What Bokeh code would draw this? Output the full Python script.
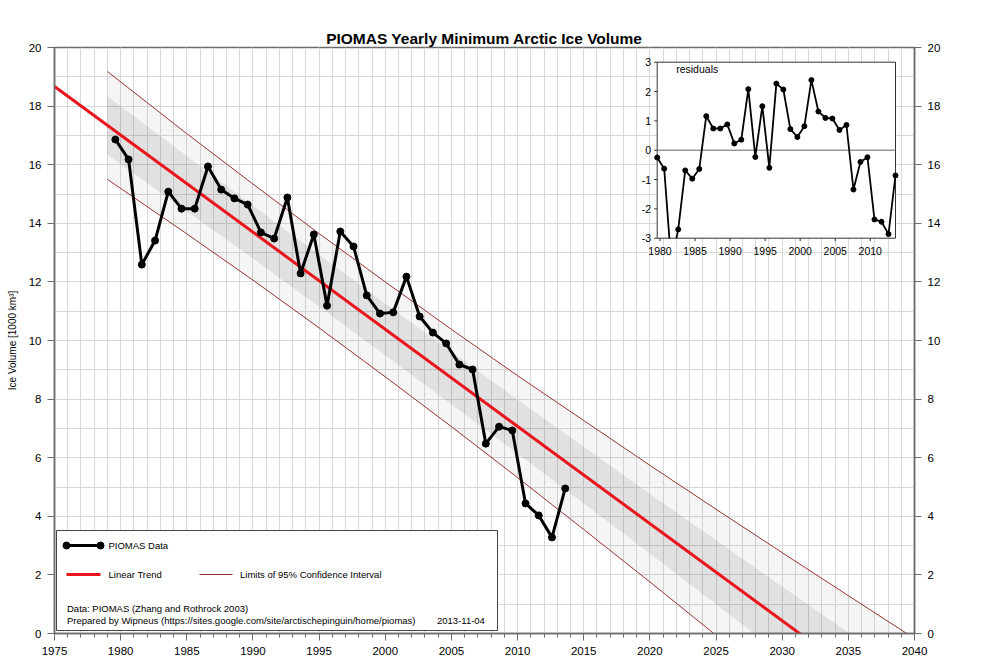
import numpy as np
from bokeh.plotting import figure
from bokeh.models import Range1d, LinearAxis, SingleIntervalTicker
from bokeh.embed import file_html
from bokeh.resources import INLINE
from bokeh.core.properties import value

# ---------------- data ----------------
years = list(range(1979, 2014))
volume = [16.86, 16.18, 12.59, 13.41, 15.08, 14.50, 14.50, 15.94, 15.15, 14.85,
          14.64, 13.69, 13.48, 14.88, 12.29, 13.62, 11.19, 13.72, 13.21, 11.54,
          10.92, 10.96, 12.18, 10.82, 10.27, 9.90, 9.18, 9.01, 6.48, 7.06,
          6.93, 4.44, 4.03, 3.28, 4.95]
residuals = [-0.25, -0.63, -3.85, -2.70, -0.69, -0.97, -0.64, 1.16, 0.74, 0.74,
             0.88, 0.23, 0.36, 2.08, -0.23, 1.50, -0.60, 2.27, 2.07, 0.72,
             0.45, 0.82, 2.39, 1.32, 1.10, 1.08, 0.69, 0.86, -1.34, -0.40,
             -0.24, -2.36, -2.44, -2.86, -0.86]
trend_x = [1975, 2040]
trend_y = [18.67, -2.88]
ci_x = [1979, 1985, 1990, 1995, 2000, 2005, 2010, 2015, 2020, 2025, 2030, 2035, 2040]
ci_upper = [19.18, 17.06, 15.34, 13.65, 12.00, 10.38, 8.80, 7.27, 5.74, 4.24, 2.76, 1.29, -0.17]
ci_lower = [15.50, 13.64, 12.06, 10.43, 8.76, 7.06, 5.32, 3.55, 1.76, -0.06, -1.90, -3.75, -5.60]
band_x = [1979, 1990, 2000, 2010, 2020, 2030, 2040]
band_upper = [18.34, 14.60, 11.26, 7.98, 4.77, 1.60, -1.53]
band_lower = [16.34, 12.80, 9.50, 6.14, 2.73, -0.74, -4.23]
res_yticks = [-3, -2, -1, 0, 1, 2, 3]
res_xticks = [1980, 1985, 1990, 1995, 2000, 2005, 2010]

title_text = "PIOMAS Yearly Minimum Arctic Ice Volume"
ylabel_text = "Ice Volume [1000 km\u00b3]"

# September minimum plotted part-way through the year
x_data = [y + 0.6 for y in years]

FONT = "Liberation Sans"

# ---------------- layout constants ----------------
W, H = 982, 669
BL, BR, BT, BB = 54, 68, 47, 36
frame_w = W - BL - BR
frame_h = H - BT - BB

p = figure(width=W, height=H, x_range=Range1d(1975, 2040), y_range=Range1d(0, 20),
           output_backend="svg", toolbar_location=None, title=title_text,
           min_border_left=BL, min_border_right=BR, min_border_top=BT, min_border_bottom=BB,
           background_fill_color="white", border_fill_color="white")
p.outline_line_color = "#6b6b6b"
p.outline_line_width = 1.5
p.title.align = "center"
p.title.text_font = FONT
p.title.text_font_size = "15.5px"
p.title.text_font_style = "bold"
p.title.text_color = "black"
p.title.standoff = 2

# axes
xt = SingleIntervalTicker(interval=5, num_minor_ticks=5)
yt = SingleIntervalTicker(interval=2, num_minor_ticks=2)
p.xaxis.ticker = xt
p.yaxis.ticker = yt
left = p.yaxis[0]
right = LinearAxis(ticker=yt)
p.add_layout(right, "right")
for ax in [p.xaxis[0], left, right]:
    ax.axis_line_color = "#6b6b6b"
    ax.axis_line_width = 1.5
    ax.major_tick_line_color = "#6b6b6b"
    ax.minor_tick_line_color = "#6b6b6b"
    ax.major_tick_out = 7
    ax.major_tick_in = 0
    ax.major_label_text_font = FONT
    ax.major_label_text_font_size = "11.5px"
    ax.major_label_text_color = "black"
    ax.major_label_standoff = 6
for ax in [left, right]:
    ax.minor_tick_out = 0
    ax.minor_tick_in = 0
p.xaxis[0].minor_tick_out = 4
p.xaxis[0].minor_tick_in = 0
left.axis_label = ylabel_text
left.axis_label_text_font = FONT
left.axis_label_text_font_size = "10px"
left.axis_label_text_font_style = "normal"
left.axis_label_text_color = "black"
left.axis_label_standoff = 8

# grid every unit / year
for g in (p.xgrid, p.ygrid):
    g.grid_line_color = "#d9d9d9"
    g.minor_grid_line_color = "#d9d9d9"
    g.grid_line_width = 1
    g.minor_grid_line_width = 1

# ---------------- main chart ----------------
p.varea(x=ci_x, y1=ci_lower, y2=ci_upper, fill_color="black", fill_alpha=0.04)
p.varea(x=band_x, y1=band_lower, y2=band_upper, fill_color="black", fill_alpha=0.08)
p.line(ci_x, ci_upper, line_color="#993333", line_width=1)
p.line(ci_x, ci_lower, line_color="#993333", line_width=1)
p.line(trend_x, trend_y, line_color="#e8161c", line_width=3)
p.line(x_data, volume, line_color="black", line_width=3)
p.scatter(x_data, volume, size=7, color="black")

# ---------------- legend (drawn in the frame) ----------------
def X(px):  # reference pixel -> data x
    return 1975 + (px - BL) * 65.0 / frame_w

def Y(py):  # reference pixel -> data y
    return (BT + frame_h - py) * 20.0 / frame_h

p.quad(left=X(56), right=X(497), top=Y(530), bottom=Y(630),
       fill_color="white", line_color="#444444", line_width=1)
p.line([X(66), X(100)], [Y(545), Y(545)], line_color="black", line_width=3)
p.scatter([X(66), X(100)], [Y(545), Y(545)], size=7, color="black")
p.line([X(66), X(100)], [Y(574), Y(574)], line_color="#e8161c", line_width=3)
p.line([X(199), X(232)], [Y(574), Y(574)], line_color="#993333", line_width=1)
leg_font = dict(text_font=value(FONT), text_font_size="9.5px", text_baseline="middle",
                text_align="left", text_color="black")
p.text(x=[X(108), X(108), X(239.5)], y=[Y(545), Y(574), Y(574)],
       text=["PIOMAS Data", "Linear Trend", "Limits of 95% Confidence Interval"], **leg_font)
p.text(x=[X(66.5), X(66.5), X(436.5)], y=[Y(608), Y(620), Y(620)],
       text=["Data: PIOMAS (Zhang and Rothrock 2003)",
             "Prepared by Wipneus (https://sites.google.com/site/arctischepinguin/home/piomas)",
             "2013-11-04"], **leg_font)

# ---------------- inset (residuals) ----------------
ins_left, ins_right, ins_top, ins_bottom = 656.7, 895.0, 61.7, 237.7   # reference px
x0, x1 = x_data[0], x_data[-1]
r0, r1 = res_yticks[0], res_yticks[-1]
ppx = (ins_right - ins_left) / (x1 - x0)
ppy = (ins_bottom - ins_top) / (r1 - r0)
ix_start = x0 - (ins_left - BL) / ppx
iy_end = r1 + (ins_top - BT) / ppy
p.extra_x_ranges = {"ix": Range1d(ix_start, ix_start + frame_w / ppx)}
p.extra_y_ranges = {"iy": Range1d(iy_end - frame_h / ppy, iy_end)}
kw = dict(x_range_name="ix", y_range_name="iy")

p.quad(left=x0, right=x1, bottom=r0, top=r1, fill_color="white",
       line_color="#333333", line_width=1, **kw)
p.line([x0, x1], [0, 0], line_color="#666666", line_width=1, **kw)


def clip_low(xs, ys, lo):
    ox, oy = [], []
    for i in range(len(xs)):
        if i > 0:
            ya, yb = ys[i - 1], ys[i]
            if (ya < lo) != (yb < lo):
                t = (lo - ya) / (yb - ya)
                ox.append(xs[i - 1] + t * (xs[i] - xs[i - 1]))
                oy.append(lo)
                if yb < lo:
                    ox.append(np.nan)
                    oy.append(np.nan)
        if ys[i] >= lo:
            ox.append(xs[i])
            oy.append(ys[i])
    return ox, oy


cx, cy = clip_low(x_data, residuals, r0)
p.line(cx, cy, line_color="black", line_width=1.8, **kw)
vis = [(a, b) for a, b in zip(x_data, residuals) if r0 <= b <= r1]
p.scatter([a for a, b in vis], [b for a, b in vis], size=5, color="black", **kw)

# inset ticks + labels
tick_len_x = 3.0 / ppx
tick_len_y = 3.0 / ppy
p.segment(x0=[x0] * len(res_yticks), x1=[x0 - tick_len_x] * len(res_yticks),
          y0=res_yticks, y1=res_yticks, line_color="#333333", line_width=1, **kw)
p.segment(x0=res_xticks, x1=res_xticks, y0=[r0] * len(res_xticks),
          y1=[r0 - tick_len_y] * len(res_xticks), line_color="#333333", line_width=1, **kw)
ins_font = dict(text_font=value(FONT), text_font_size="10.5px", text_color="black")
p.text(x=[x0] * len(res_yticks), y=res_yticks, text=[str(t) for t in res_yticks],
       x_offset=-6, text_align="right", text_baseline="middle", **ins_font, **kw)
p.text(x=res_xticks, y=[r0] * len(res_xticks), text=[str(t) for t in res_xticks],
       y_offset=9, text_align="center", text_baseline="top", **ins_font, **kw)
p.text(x=[x0], y=[r1], text=["residuals"], x_offset=19, y_offset=7,
       text_align="left", text_baseline="middle", **ins_font, **kw)

open("out.html", "w").write(file_html(p, INLINE))
